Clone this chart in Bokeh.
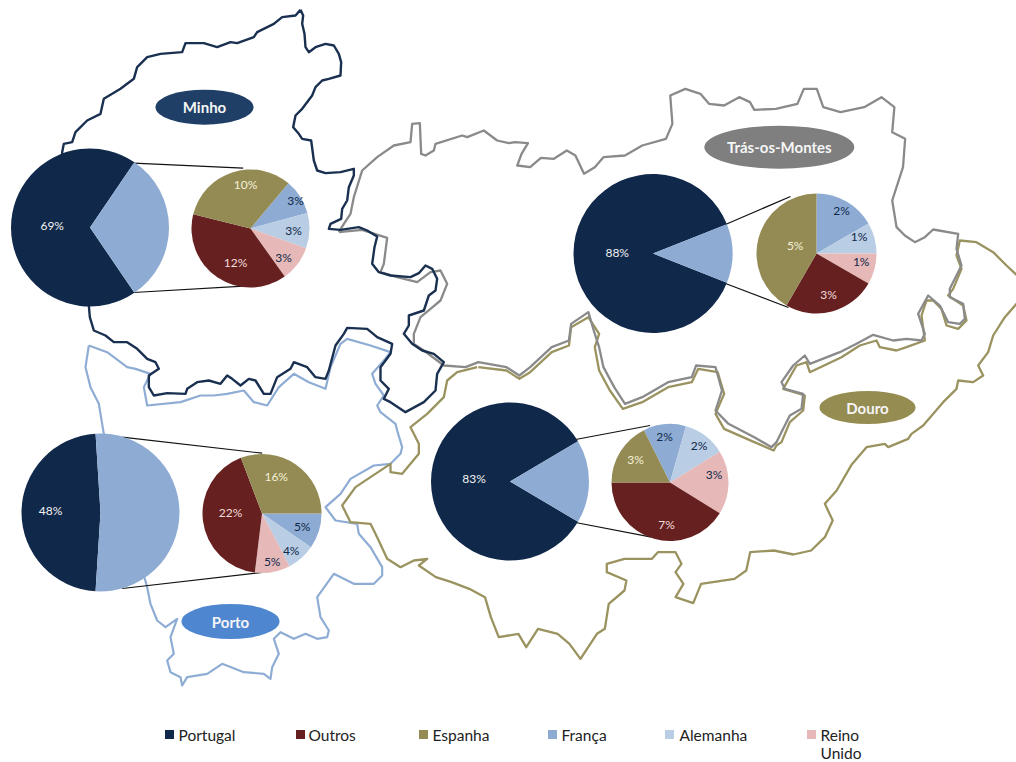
import math

from bokeh.core.properties import value
from bokeh.embed import file_html
from bokeh.models import Range1d
from bokeh.plotting import figure
from bokeh.resources import INLINE

WIDTH, HEIGHT = 1016, 762
FONT = "Lato"

# Export shares per region, in percent of the regional total
REGIONS = ["Minho", "Trás-os-Montes", "Douro", "Porto"]
PORTUGAL = [69, 88, 83, 48]
FRANCA = [3, 2, 2, 5]
ALEMANHA = [3, 1, 2, 4]
REINO_UNIDO = [3, 1, 3, 5]
OUTROS = [12, 3, 7, 22]
ESPANHA = [10, 5, 3, 16]

# Slice order of the detail pies, clockwise
DETAIL_NAMES = ["França", "Alemanha", "Reino Unido", "Outros", "Espanha"]
DETAIL_SERIES = [FRANCA, ALEMANHA, REINO_UNIDO, OUTROS, ESPANHA]

COLORS = {
    "Portugal": "#10284a",
    "Outros": "#65201f",
    "Espanha": "#948b54",
    "França": "#8eacd3",
    "Alemanha": "#b9cde4",
    "Reino Unido": "#e6b9b8",
}
LABEL_COLORS = {
    "Portugal": "#f2f2f2",
    "Outros": "#f2dcdb",
    "Espanha": "#f4f0d8",
    "França": "#10284a",
    "Alemanha": "#10284a",
    "Reino Unido": "#10284a",
}

# Legend
LEGEND_NAMES = ["Portugal", "Outros", "Espanha", "França", "Alemanha", "Reino Unido"]
LEGEND_TEXTS = ["Portugal", "Outros", "Espanha", "França", "Alemanha", "Reino\nUnido"]
LEGEND_SWATCH_X = [169, 300, 423, 552, 669, 811]
LEGEND_TEXT_X = [178, 308, 432, 561, 679, 820]
LEGEND_Y = 734

# Layout of each region: pie centres and radii in page pixels (y downward)
BIG_CENTER = [(89.5, 227), (652.5, 253), (509.5, 481), (100, 512)]
BIG_RADIUS = [79, 79.5, 79, 79]
DETAIL_CENTER = [(250, 228), (816, 253), (669.5, 482), (261.5, 513)]
DETAIL_RADIUS = [59, 60, 58.5, 59.5]
DETAIL_START = [50, 90, 116.5, 0]

BIG_LABEL_XY = [(51.7, 224.5), (616.7, 251.5), (473.5, 477.5), (50, 510)]
# One label position per detail slice, same order as DETAIL_NAMES
DETAIL_LABEL_XY = [
    [(295, 200), (293, 230), (283, 257), (235, 262), (245, 184)],
    [(841, 210), (858.5, 236), (860.7, 261), (828, 294), (794.7, 245)],
    [(664, 435.7), (698.6, 445), (713.6, 474), (666, 524), (635, 459)],
    [(301.7, 525.7), (290.7, 550), (271.7, 561), (230, 512.3), (275.7, 475.7)],
]

# Leader lines running from the big pie to the detail pie
LEADERS = [
    [((133, 162.7), (242.7, 167.7)), ((133, 292), (243, 285.7))],
    [((725, 224), (790, 196)), ((725, 283), (788, 307))],
    [((575, 439), (649.5, 425)), ((575, 522), (651, 536.7))],
    [((121.7, 436.7), (261.7, 452.7)), ((121.7, 588), (261.7, 572))],
]

# Region name badges: centre x, centre y, width, height
BADGE_BOX = [(204, 106.7, 98, 35), (778.8, 146.7, 150, 43), (867, 407, 96, 33), (230, 621, 98, 35)]
BADGE_FILL = ["#1f3f66", "#7f7f7f", "#958c52", "#4f86d0"]
OUTLINE_COLOR = ["#1a3050", "#8a8a8a", "#9a9360", "#8fadd4"]


def sheet(points, ox, oy, sx, sy):
    """Convert digitised sheet coordinates to page pixels."""
    return [(ox + x / sx, oy + y / sy) for x, y in points]


# The boundaries were digitised on overlapping sheets, each with its own origin and scale
SHEET_A = (0, 0, 3, 3)
SHEET_B = (340, 70, 2.32, 3)
SHEET_C = (0, 330, 3, 3)
SHEET_D = (400, 380, 2.545, 3)
SHEET_E = (776, 225, 3, 3)

MINHO_OUTLINE = sheet([
    (900, 28), (908, 45), (905, 70), (912, 100), (915, 140), (925, 155), (945, 140), (975, 130),
    (1000, 135), (1015, 160), (1022, 185), (1020, 225), (985, 235), (965, 240), (945, 260), (935, 285),
    (905, 325), (885, 345), (878, 380), (895, 400), (905, 415), (932, 420), (940, 480), (950, 510),
    (975, 518), (1020, 515), (1060, 505), (1060, 525), (1045, 560), (1040, 600), (1025, 625), (1022, 655),
    (990, 670), (985, 685), (1020, 688), (1075, 680), (1100, 690), (1130, 708), (1122, 740), (1115, 790),
    (1135, 815), (1170, 825), (1230, 830), (1255, 818), (1275, 795), (1295, 805), (1310, 835), (1305, 870),
    (1285, 885), (1270, 930), (1225, 945), (1225, 975), (1210, 1000), (1235, 1030), (1265, 1050), (1300, 1060),
    (1330, 1085), (1310, 1120), (1305, 1170), (1270, 1205), (1215, 1235), (1170, 1205), (1150, 1195), (1165, 1165),
    (1140, 1140), (1140, 1100), (1170, 1060), (1175, 1030), (1130, 1010), (1100, 985), (1040, 982), (1030, 1000),
    (1005, 1035), (985, 1110), (975, 1135), (945, 1130), (920, 1100), (880, 1085), (870, 1105), (830, 1130),
    (810, 1180), (790, 1180), (765, 1140), (745, 1135), (720, 1155), (695, 1135), (680, 1125), (660, 1150),
    (625, 1140), (590, 1145), (560, 1165), (555, 1180), (500, 1178), (460, 1185), (445, 1160), (445, 1125),
    (475, 1105), (465, 1085), (440, 1075), (410, 1045), (380, 1025), (340, 1025), (315, 1005), (280, 990),
    (268, 950), (265, 915), (185, 600), (185, 455), (190, 430), (215, 425), (225, 395), (260, 360),
    (300, 340), (310, 295), (360, 265), (400, 235), (410, 200), (440, 170), (480, 160), (545, 155),
    (555, 128), (610, 128), (650, 140), (690, 125), (710, 128), (760, 110), (770, 95), (820, 70),
    (845, 50), (885, 45), (900, 28),
], *SHEET_A)

TRAS_OUTLINE = (
    sheet([
        (1015, 695), (1030, 670), (1050, 640), (1060, 590), (1085, 510), (1130, 470), (1180, 435), (1230, 425),
        (1235, 370), (1258, 368), (1262, 460), (1275, 465), (1300, 450), (1305, 430), (1385, 405), (1400, 410),
        (1450, 390), (1490, 420), (1525, 428),
    ], *SHEET_A)
    + sheet([
        (405, 215), (435, 218), (420, 250), (410, 285), (440, 290), (465, 262), (495, 265), (525, 240),
        (545, 255), (565, 310), (590, 290), (610, 260), (660, 255), (700, 225), (755, 205), (770, 160),
        (765, 75), (800, 55), (835, 70), (855, 100), (890, 105), (925, 80), (950, 95), (960, 118),
        (1010, 115), (1060, 100), (1075, 55), (1105, 55), (1120, 110), (1160, 125), (1215, 110), (1255, 80),
        (1285, 110), (1280, 185), (1310, 205), (1305, 290), (1280, 390), (1290, 470),
    ], *SHEET_B)
    + sheet([
        (385, 30), (415, 50), (445, 35), (470, 12), (545, 25), (540, 70), (555, 120), (520, 190),
        (520, 215), (560, 235), (565, 280), (550, 295), (515, 290), (490, 240), (455, 210), (425, 265),
        (445, 325), (435, 345), (390, 340), (350, 345), (290, 328), (240, 355), (190, 380), (100, 415),
        (85, 390), (50, 420), (15, 470), (25, 490), (80, 505), (75, 550), (40, 570), (5, 640), (0, 650),
    ], *SHEET_E)
    + sheet([
        (1000, 1130), (960, 1100), (900, 1060), (870, 1020), (885, 960), (870, 890), (825, 885), (815, 920),
        (760, 935), (700, 980), (660, 1000), (635, 950), (610, 890), (600, 830), (590, 790), (575, 725),
        (535, 760), (530, 810), (490, 830), (440, 890), (415, 915), (385, 890), (320, 875), (290, 890),
        (240, 885),
    ], *SHEET_B)
    + sheet([
        (1270, 1050), (1240, 1030), (1240, 1000), (1260, 950), (1290, 925), (1320, 900), (1340, 850), (1320, 810),
        (1290, 815), (1250, 845), (1190, 830), (1140, 815), (1150, 790), (1160, 712), (1085, 688), (1015, 695),
    ], *SHEET_A)
)

DOURO_OUTLINE = (
    sheet([
        (320, 890), (385, 900), (415, 925), (440, 905), (490, 845), (530, 825), (535, 770), (575, 740),
        (600, 790), (590, 830), (600, 900), (625, 960), (655, 1015), (700, 995), (760, 950), (815, 935),
        (830, 895), (875, 905), (890, 970), (870, 1030), (890, 1075), (960, 1115), (1005, 1140),
    ], *SHEET_B)
    + sheet([
        (0, 660), (15, 650), (40, 590), (80, 555), (85, 510), (20, 490), (60, 420), (90, 410),
        (100, 440), (195, 395), (250, 360), (300, 345), (310, 365), (360, 375), (390, 365), (445, 345),
        (435, 270), (450, 225), (470, 225), (495, 250), (510, 300), (545, 310), (570, 285), (560, 240),
        (515, 210), (530, 190), (555, 130), (540, 90), (550, 45), (600, 50), (650, 80), (690, 120),
        (720, 148), (780, 190), (720, 235), (685, 275), (650, 330), (635, 380), (605, 420), (620, 450),
        (590, 470), (545, 465), (540, 490), (500, 530), (440, 600), (405, 625), (395, 640), (335, 665),
        (325, 655), (270, 665), (225, 718),
    ], *SHEET_E)
    + sheet([
        (1110, 330), (1080, 370), (1100, 420), (1080, 470), (1045, 510), (1000, 522), (950, 510), (890, 515),
        (880, 570), (850, 595), (765, 610), (745, 668), (700, 650), (720, 610), (700, 575), (715, 550),
        (700, 515), (655, 515), (640, 535), (570, 535), (525, 550), (525, 575), (575, 600), (570, 630),
        (530, 670), (520, 745), (500, 760), (458, 835), (430, 790), (400, 760), (350, 745), (320, 800),
        (300, 760), (250, 770), (230, 710), (215, 650), (175, 625), (130, 605), (90, 590),
    ], *SHEET_D)
    + sheet([
        (1255, 705), (1280, 685), (1240, 690), (1200, 710), (1160, 685), (1130, 620), (1110, 580), (1050, 575),
        (1025, 525), (1065, 470), (1110, 440), (1170, 400), (1170, 425), (1205, 430), (1255, 370), (1255, 340),
        (1230, 290), (1280, 250), (1330, 200), (1340, 150), (1370, 125), (1430, 110),
    ], *SHEET_C)
)

PORTO_OUTLINE = sheet([
    (265, 45), (255, 110), (270, 170), (295, 220), (305, 280), (310, 310), (440, 770), (450, 820),
    (470, 870), (495, 890), (530, 865), (510, 920), (520, 970), (500, 990), (510, 1025), (540, 1040),
    (545, 1065), (560, 1040), (620, 1030), (665, 1000), (730, 1025), (790, 1030), (810, 1045), (815, 1010),
    (835, 970), (820, 925), (840, 905), (880, 925), (915, 910), (950, 925), (980, 920), (985, 900),
    (960, 860), (950, 800), (1000, 730), (1060, 760), (1120, 760), (1145, 735), (1145, 710), (1110, 650),
    (1075, 610), (1070, 580), (1005, 570), (975, 530), (1020, 490), (1050, 445), (1120, 405), (1170, 400),
    (1200, 370), (1205, 350), (1190, 300), (1185, 280), (1140, 245), (1130, 225), (1150, 195), (1125, 160),
    (1115, 130), (1150, 90), (1170, 65), (1110, 45), (1040, 25), (1020, 40), (990, 110), (975, 175),
    (925, 155), (880, 130), (835, 170), (800, 225), (760, 215), (730, 180), (680, 190), (640, 195),
    (600, 195), (540, 215), (440, 225), (430, 170), (450, 130), (405, 115), (380, 110), (320, 65),
    (265, 45),
], *SHEET_C)

OUTLINES = [MINHO_OUTLINE, TRAS_OUTLINE, DOURO_OUTLINE, PORTO_OUTLINE]
OUTLINE_WIDTH = [2.4, 2.3, 2.3, 2.2]
DRAW_ORDER = [3, 2, 1, 0]


def flip(y):
    """Page pixels count downward; the plot's y axis counts upward."""
    return HEIGHT - y


p = figure(
    width=WIDTH,
    height=HEIGHT,
    x_range=Range1d(0, WIDTH),
    y_range=Range1d(0, HEIGHT),
    output_backend="svg",
    toolbar_location=None,
    min_border=0,
    background_fill_color="white",
    border_fill_color="white",
    outline_line_color=None,
)
p.axis.visible = False
p.grid.visible = False

# Regional boundaries
for i in DRAW_ORDER:
    xs = [pt[0] for pt in OUTLINES[i]]
    ys = [flip(pt[1]) for pt in OUTLINES[i]]
    p.line(xs, ys, line_color=OUTLINE_COLOR[i], line_width=OUTLINE_WIDTH[i], line_join="round")

# Leader lines
for pair in LEADERS:
    for (x0, y0), (x1, y1) in pair:
        p.line([x0, x1], [flip(y0), flip(y1)], line_color="#111111", line_width=1.2)


def labels(xs, ys, texts, colors, size="12px", style="normal", align="center"):
    p.text(
        xs, ys, text=texts, text_color=colors,
        text_font=value(FONT), text_font_size=value(size), text_font_style=style,
        text_align=align, text_baseline="middle",
    )


for r in range(len(REGIONS)):
    # Big pie: Portugal against everything else, with the remainder centred on the right
    cx, cy = BIG_CENTER[r]
    half_rest = math.radians((100 - PORTUGAL[r]) * 3.6 / 2)
    p.wedge(
        cx, flip(cy), radius=BIG_RADIUS[r], start_angle=half_rest, end_angle=2 * math.pi - half_rest,
        direction="anticlock", fill_color=COLORS["Portugal"], line_color=None,
    )
    p.wedge(
        cx, flip(cy), radius=BIG_RADIUS[r], start_angle=-half_rest, end_angle=half_rest,
        direction="anticlock", fill_color=COLORS["França"], line_color=None,
    )
    bx, by = BIG_LABEL_XY[r]
    labels([bx], [flip(by)], [f"{PORTUGAL[r]}%"], [LABEL_COLORS["Portugal"]])

    # Detail pie: split of the remainder, clockwise from the region's start angle
    cx, cy = DETAIL_CENTER[r]
    values = [series[r] for series in DETAIL_SERIES]
    total = sum(values)
    angle = DETAIL_START[r]
    for name, v, (lx, ly) in zip(DETAIL_NAMES, values, DETAIL_LABEL_XY[r]):
        sweep = v / total * 360
        p.wedge(
            cx, flip(cy), radius=DETAIL_RADIUS[r],
            start_angle=math.radians(angle - sweep), end_angle=math.radians(angle),
            direction="anticlock", fill_color=COLORS[name], line_color=None,
        )
        labels([lx], [flip(ly)], [f"{v}%"], [LABEL_COLORS[name]])
        angle -= sweep

# Region name badges
for name, (bx, by, bw, bh), fill in zip(REGIONS, BADGE_BOX, BADGE_FILL):
    p.ellipse(bx, flip(by), width=bw, height=bh, fill_color=fill, line_color=None)
    labels([bx], [flip(by)], [name], ["#f5f5f5"], size="15px", style="bold")

# Legend
p.scatter(
    LEGEND_SWATCH_X, [flip(LEGEND_Y)] * len(LEGEND_NAMES), marker="square", size=9,
    fill_color=[COLORS[n] for n in LEGEND_NAMES], line_color=None,
)
for text, x in zip(LEGEND_TEXTS, LEGEND_TEXT_X):
    for k, line in enumerate(text.split("\n")):
        labels([x], [flip(LEGEND_Y + k * 18.5)], [line], ["#222222"], size="15.5px", align="left")

with open("out.html", "w") as f:
    f.write(file_html(p, INLINE))
